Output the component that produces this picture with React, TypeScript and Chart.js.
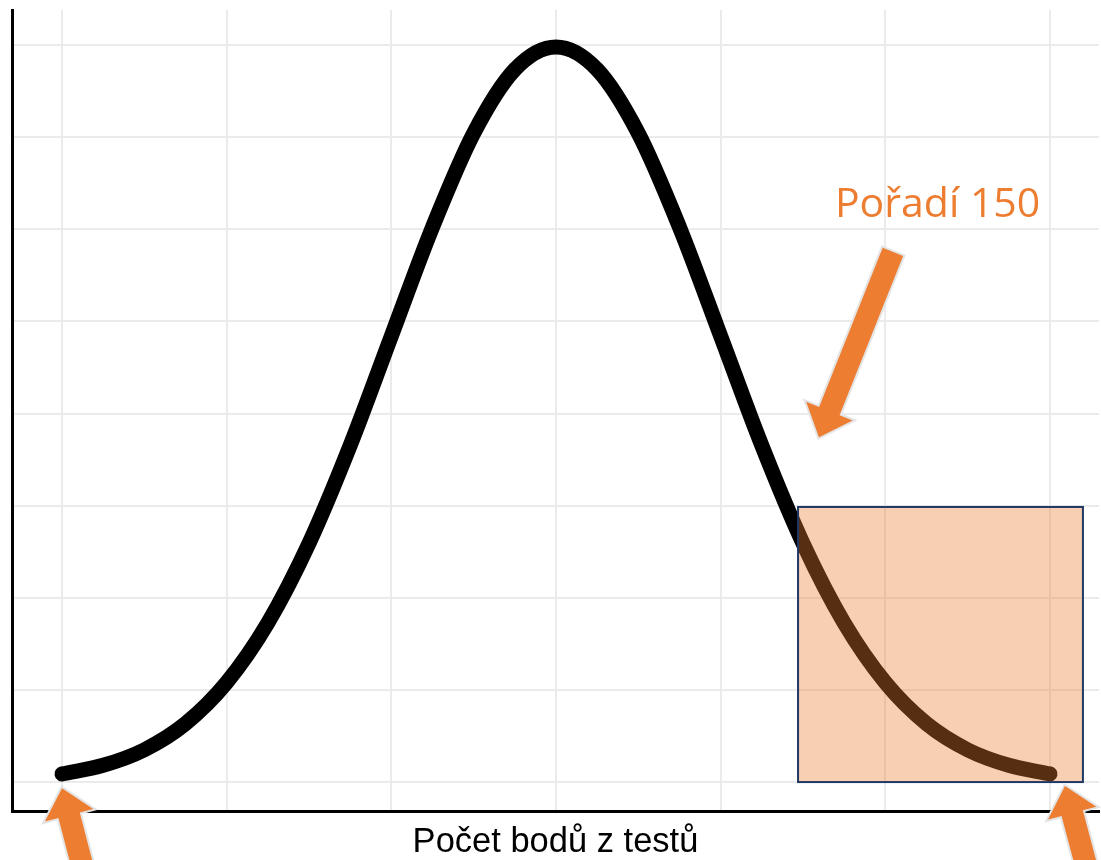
import React, { useEffect, useRef } from "react";
import { Chart, registerables } from "chart.js";

Chart.register(...registerables);

// Curve (score on x, density on y)
const xValues = [-3, -2.75, -2.5, -2.25, -2, -1.75, -1.5, -1.25, -1, -0.75, -0.5, -0.25, 0, 0.25, 0.5, 0.75, 1, 1.25, 1.5, 1.75, 2, 2.25, 2.5, 2.75, 3];
const yValues = [0.0044, 0.0091, 0.0175, 0.0317, 0.054, 0.0863, 0.1295, 0.1826, 0.242, 0.3011, 0.3521, 0.3867, 0.3989, 0.3867, 0.3521, 0.3011, 0.242, 0.1826, 0.1295, 0.0863, 0.054, 0.0317, 0.0175, 0.0091, 0.0044];

const xTicks = [-3, -2, -1, 0, 1, 2, 3];
const yTicks = [0, 0.05, 0.1, 0.15, 0.2, 0.25, 0.3, 0.35, 0.4];

const xTitle = "Počet bodů z testů";
const labelText = "Pořadí 150";
const labelPos = [1.694, 0.3066];

// highlighted region [x1, x2, y1, y2] in data units
const regionBox = [1.47, 3.2, 0, 0.1493];

// arrows: [tipX, tipY, tailX, tailY] in data units
const arrowList = [
  [-3.0, -0.0033, -2.854, -0.0532],
  [3.091, -0.0022, 3.243, -0.0532],
  [1.597, 0.1872, 2.046, 0.2877],
];

const ORANGE = "#ED7D31";

function drawArrow(ctx: CanvasRenderingContext2D, tx: number, ty: number, sx: number, sy: number) {
  const dx = tx - sx;
  const dy = ty - sy;
  const len = Math.hypot(dx, dy);
  const ux = dx / len;
  const uy = dy / len;
  const px = -uy;
  const py = ux;
  const shaft = 11;
  const head = 25;
  const headLen = 28;
  const bx = tx - ux * headLen;
  const by = ty - uy * headLen;
  ctx.beginPath();
  ctx.moveTo(sx + px * shaft, sy + py * shaft);
  ctx.lineTo(bx + px * shaft, by + py * shaft);
  ctx.lineTo(bx + px * head, by + py * head);
  ctx.lineTo(tx, ty);
  ctx.lineTo(bx - px * head, by - py * head);
  ctx.lineTo(bx - px * shaft, by - py * shaft);
  ctx.lineTo(sx - px * shaft, sy - py * shaft);
  ctx.closePath();
  ctx.lineJoin = "miter";
  ctx.lineWidth = 4;
  ctx.strokeStyle = "#E4E4E4";
  ctx.stroke();
  ctx.fillStyle = ORANGE;
  ctx.fill();
}

const annotations = {
  id: "annotations",
  afterDatasetsDraw(chart: any) {
    const { ctx, scales } = chart;
    const x = scales.x;
    const y = scales.y;
    const x1 = x.getPixelForValue(regionBox[0]);
    const x2 = x.getPixelForValue(regionBox[1]);
    const y1 = y.getPixelForValue(regionBox[2]);
    const y2 = y.getPixelForValue(regionBox[3]);
    ctx.save();
    ctx.fillStyle = "rgba(237,125,49,0.37)";
    ctx.fillRect(x1, y2, x2 - x1, y1 - y2);
    ctx.lineWidth = 2;
    ctx.strokeStyle = "#1F3864";
    ctx.strokeRect(x1, y2, x2 - x1, y1 - y2);
    ctx.restore();
  },
  afterDraw(chart: any) {
    const { ctx, scales } = chart;
    const x = scales.x;
    const y = scales.y;
    ctx.save();
    for (const a of arrowList) {
      drawArrow(ctx, x.getPixelForValue(a[0]), y.getPixelForValue(a[1]), x.getPixelForValue(a[2]), y.getPixelForValue(a[3]));
    }
    ctx.fillStyle = ORANGE;
    ctx.font = "41px 'Open Sans'";
    ctx.textAlign = "left";
    ctx.textBaseline = "alphabetic";
    ctx.fillText(labelText, x.getPixelForValue(labelPos[0]), y.getPixelForValue(labelPos[1]));
    ctx.restore();
  },
};

export default function App() {
  const ref = useRef<HTMLCanvasElement>(null);
  useEffect(() => {
    if (!ref.current) return;
    const chart = new Chart(ref.current, {
      type: "line",
      data: {
        datasets: [
          {
            data: xValues.map((v, i) => ({ x: v, y: yValues[i] })),
            borderColor: "#000000",
            borderWidth: 15,
            borderCapStyle: "round",
            borderJoinStyle: "round",
            pointRadius: 0,
            cubicInterpolationMode: "monotone",
            fill: false,
          },
        ],
      },
      options: {
        animation: false,
        responsive: false,
        maintainAspectRatio: false,
        layout: { padding: { left: 12, top: 10, right: 2, bottom: 0 } },
        plugins: { legend: { display: false }, tooltip: { enabled: false }, title: { display: false } },
        scales: {
          x: {
            type: "linear",
            min: -3.3036,
            max: 3.2976,
            afterBuildTicks: (s: any) => {
              s.ticks = xTicks.map((v) => ({ value: v }));
            },
            ticks: { display: false },
            grid: { color: "#EBEBEB", lineWidth: 2, drawTicks: false },
            border: { color: "#000000", width: 3 },
            title: {
              display: true,
              text: xTitle,
              color: "#000000",
              font: { family: "'Liberation Sans', Arial, sans-serif", size: 34.5, lineHeight: 1 },
              padding: { top: 14.5, bottom: 0 },
            },
          },
          y: {
            type: "linear",
            min: -0.0157,
            max: 0.419,
            afterBuildTicks: (s: any) => {
              s.ticks = yTicks.map((v) => ({ value: v }));
            },
            ticks: { display: false },
            grid: { color: "#EBEBEB", lineWidth: 2, drawTicks: false },
            border: { color: "#000000", width: 3 },
          },
        },
      } as any,
      plugins: [annotations],
    });
    return () => chart.destroy();
  }, []);
  return (
    <div style={{ position: "absolute", left: 0, top: 0, width: 1101, height: 860 }}>
      <canvas ref={ref} width={1101} height={860} />
    </div>
  );
}
